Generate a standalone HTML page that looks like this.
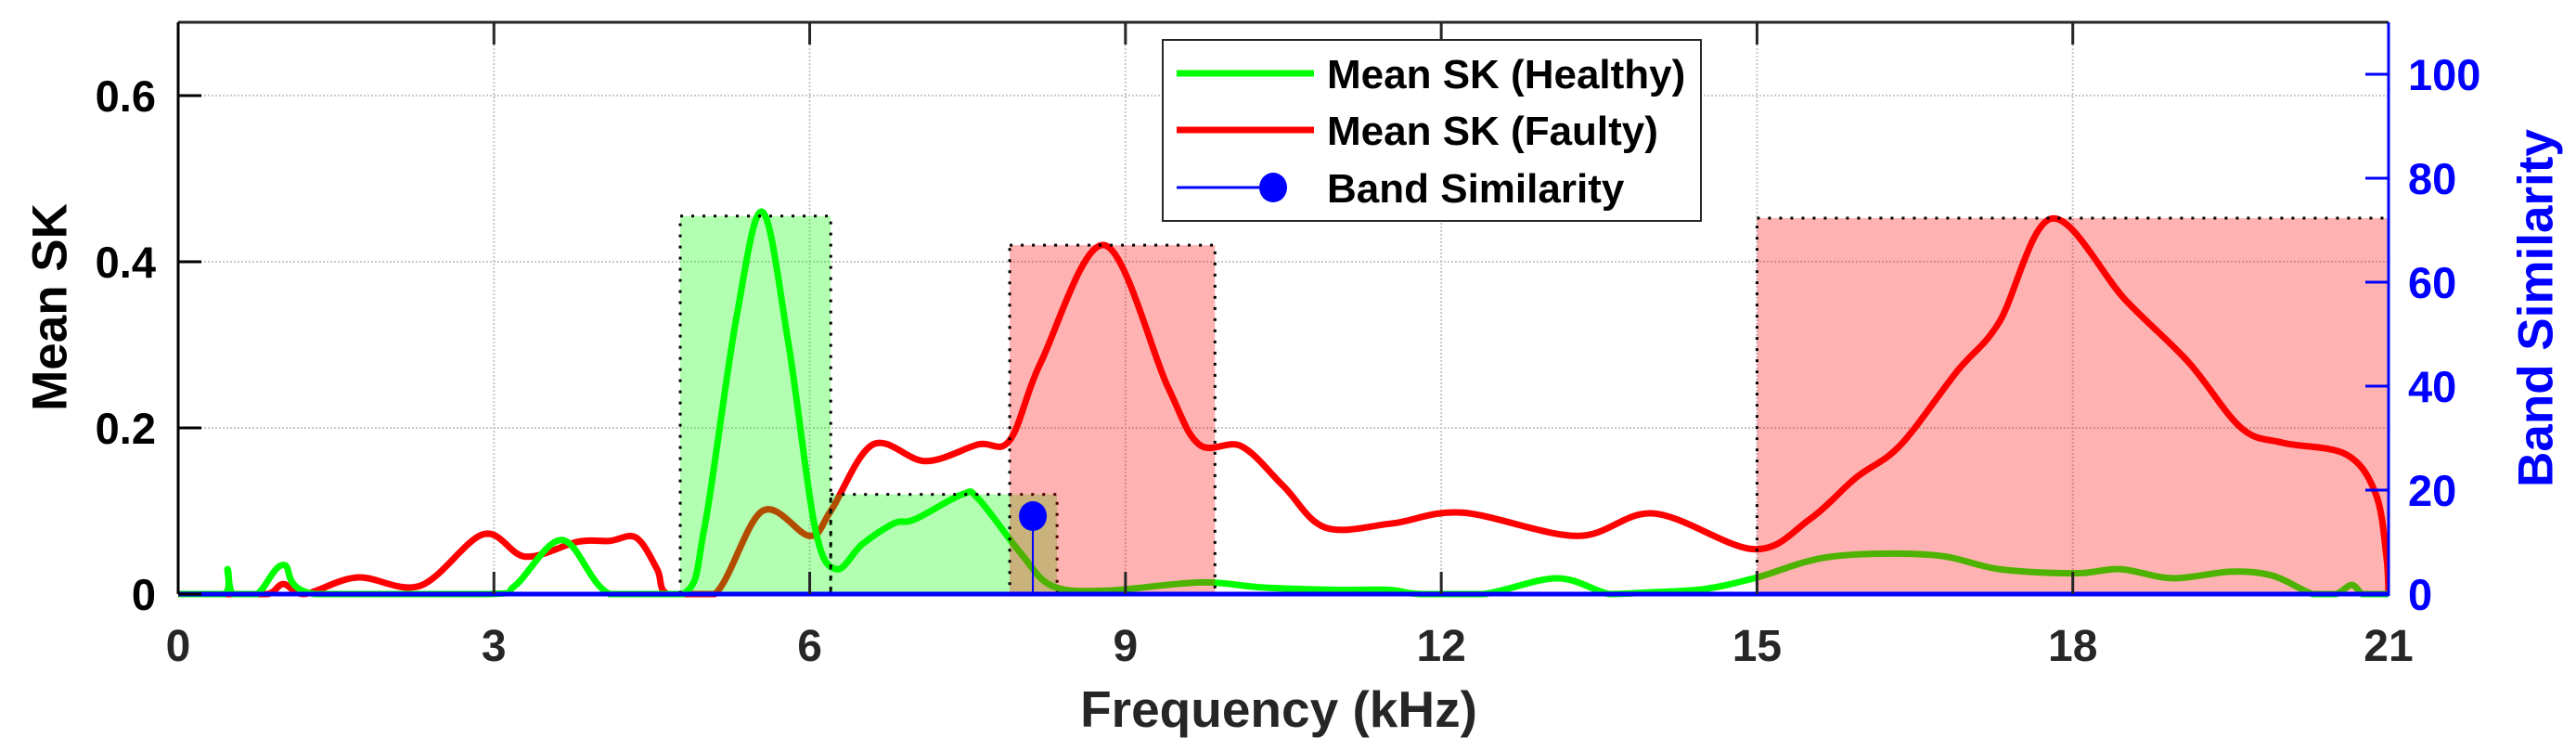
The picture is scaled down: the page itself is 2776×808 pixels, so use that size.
<!DOCTYPE html>
<html><head><meta charset="utf-8"><style>
html,body{margin:0;padding:0;background:#fff;}
svg{display:block;font-family:"Liberation Sans",Arial,sans-serif;font-weight:bold;}
</style></head><body>
<svg id="chart" width="2776" height="808" viewBox="0 0 2776 808" xmlns="http://www.w3.org/2000/svg">
<defs><clipPath id="plotClip"><rect x="192" y="24" width="2382" height="620"/></clipPath></defs>
<rect x="0" y="0" width="2776" height="808" fill="#fff"/>
<g id="grid"></g>
<g id="lines" clip-path="url(#plotClip)"></g>
<g id="bands"></g>
<g id="stems"></g>
<g id="axes"></g>
<text x="54" y="331" transform="rotate(-90 54 331)" text-anchor="middle" dominant-baseline="central" font-size="53" fill="#000">Mean SK</text>
<text x="2733" y="332" transform="rotate(-90 2733 332)" text-anchor="middle" dominant-baseline="central" font-size="53" fill="#0000ff">Band Similarity</text>
<text x="1378" y="783" text-anchor="middle" font-size="55" fill="#262626">Frequency (kHz)</text>
<g>
<rect x="1253" y="43" width="580" height="195" fill="#fff" stroke="#262626" stroke-width="2"/>
<line x1="1268" y1="79" x2="1416" y2="79" stroke="#00ff00" stroke-width="7"/>
<text x="1430" y="95" font-size="44" fill="#000">Mean SK (Healthy)</text>
<line x1="1268" y1="140" x2="1416" y2="140" stroke="#ff0000" stroke-width="7"/>
<text x="1430" y="156" font-size="44" fill="#000">Mean SK (Faulty)</text>
<line x1="1268" y1="202" x2="1372" y2="202" stroke="#0000ff" stroke-width="3"/>
<ellipse cx="1372" cy="202" rx="15" ry="16" fill="#0000ff"/>
<text x="1430" y="218" font-size="44" fill="#000">Band Similarity</text>
</g>
</svg>
<script>
const xTicks=[0,3,6,9,12,15,18,21];
const yTicks=[0,0.2,0.4,0.6];
const yTickLabels=["0","0.2","0.4","0.6"];
const rTicks=[0,20,40,60,80,100];
const healthyF=[0,0.44,0.47,0.52,0.75,1.0,1.3,2.95,3.2,3.65,4.1,4.8,5.0,5.3,5.55,5.8,6.05,6.25,6.5,6.8,7.0,7.45,7.6,8.0,8.3,8.8,9.7,10.3,11.0,11.5,11.8,12.4,13.1,13.6,13.97,14.5,15.0,15.7,16.67,17.3,18.03,18.45,18.95,19.5,19.9,20.28,20.5,20.65,20.75,20.85,21];
const healthyV=[0,0,0.03,0,0,0.035,0,0,0.01,0.065,0,0,0.08,0.33,0.46,0.3,0.08,0.03,0.06,0.085,0.09,0.12,0.115,0.05,0.01,0.004,0.014,0.008,0.005,0.005,0,0,0.019,0,0.002,0.006,0.02,0.045,0.047,0.03,0.025,0.03,0.019,0.027,0.022,0,0,0.011,0,0,0];
const faultyF=[0,0.5,0.85,1.0,1.2,1.7,2.3,2.9,3.3,3.8,4.1,4.35,4.55,4.65,5.1,5.55,6.0,6.2,6.6,7.1,7.6,7.9,8.2,8.8,9.4,9.7,10.1,10.5,10.9,11.53,12.2,13.29,14.02,14.97,15.5,15.94,16.36,16.9,17.3,17.8,18.5,19.1,19.6,20.0,20.6,20.88,20.98,21];
const faultyV=[0,0,0,0.012,0,0.02,0.01,0.072,0.045,0.063,0.064,0.068,0.03,0,0,0.1,0.07,0.1,0.18,0.16,0.18,0.185,0.28,0.42,0.25,0.18,0.178,0.13,0.08,0.085,0.098,0.07,0.097,0.054,0.09,0.14,0.179,0.268,0.327,0.452,0.354,0.279,0.2,0.182,0.168,0.12,0.045,0];
const bandStart=[4.77,6.2,7.9,15.0];
const bandEnd=[6.2,8.35,9.85,21.0];
const bandTop=[0.455,0.12,0.42,0.4525];
const bandClass=["healthy","healthy","faulty","faulty"];
const simF=[8.12];
const simV=[15];

(function(){
const X0=192,X1=2574,Y0=640,Ytop=24;
const xs=f=>X0+f*(X1-X0)/21;
const yL=v=>Y0-v*895;
const yR=s=>Y0-s*5.6;
const NS='http://www.w3.org/2000/svg';
function mk(tag,attrs,parent){const e=document.createElementNS(NS,tag);for(const k in attrs)e.setAttribute(k,attrs[k]);parent.appendChild(e);return e;}
const grid=document.getElementById('grid'),axes=document.getElementById('axes'),lines=document.getElementById('lines'),bands=document.getElementById('bands'),stems=document.getElementById('stems');

xTicks.forEach(t=>{
  if(t>0&&t<21){const g=mk('line',{x1:xs(t),x2:xs(t),y1:Ytop,y2:Y0,stroke:'#c8c8c8','stroke-width':2,'stroke-dasharray':'2 2'},grid);
  
  }
  const tk=mk('line',{x1:xs(t),x2:xs(t),y1:Y0,y2:Y0-24,stroke:'#262626','stroke-width':3},axes);
  
  
  const tk2=mk('line',{x1:xs(t),x2:xs(t),y1:Ytop,y2:Ytop+24,stroke:'#262626','stroke-width':3},axes);
  
  
  const lb=mk('text',{x:xs(t),y:712,'text-anchor':'middle','font-size':48,fill:'#262626'},axes);
  lb.textContent=String(t);
  
  
});
yTicks.forEach((t,i)=>{
  if(t>0){const g=mk('line',{x1:X0,x2:X1,y1:yL(t),y2:yL(t),stroke:'#c8c8c8','stroke-width':2,'stroke-dasharray':'2 2'},grid);
  
  }
  const tk=mk('line',{x1:X0,x2:X0+25,y1:yL(t),y2:yL(t),stroke:'#000','stroke-width':3},axes);
  
  
  const lb=mk('text',{x:168,y:yL(t)+17,'text-anchor':'end','font-size':47,fill:'#000'},axes);
  lb.textContent=yTickLabels[i];
  
  
});
rTicks.forEach(t=>{
  const tk=mk('line',{x1:X1-25,x2:X1,y1:yR(t),y2:yR(t),stroke:'#0000ff','stroke-width':3},axes);
  
  
  const lb=mk('text',{x:2595,y:yR(t)+17,'font-size':47,fill:'#0000ff'},axes);
  lb.textContent=String(t);
  
  
});
const topAxis=mk('line',{x1:X0,x2:X1,y1:Ytop,y2:Ytop,stroke:'#262626','stroke-width':3},axes);


const leftAxis=mk('line',{x1:X0,x2:X0,y1:Ytop,y2:Y0,stroke:'#000','stroke-width':3},axes);


const rightAxis=mk('line',{x1:X1,x2:X1,y1:Ytop,y2:Y0+2,stroke:'#0000ff','stroke-width':3},axes);



function smoothPath(F,V){
  const P=F.map((f,i)=>[xs(f),yL(V[i])]);
  let d='M'+P[0][0]+','+P[0][1];
  for(let i=0;i<P.length-1;i++){
    const p0=P[Math.max(0,i-1)],p1=P[i],p2=P[i+1],p3=P[Math.min(P.length-1,i+2)];
    let c1y=p1[1]+(p2[1]-p0[1])/6,c2y=p2[1]-(p3[1]-p1[1])/6;
    c1y=Math.min(c1y,Y0);c2y=Math.min(c2y,Y0);
    d+=' C'+(p1[0]+(p2[0]-p0[0])/6)+','+c1y+' '+(p2[0]-(p3[0]-p1[0])/6)+','+c2y+' '+p2[0]+','+p2[1];
  }
  return d;
}
const pf=mk('path',{d:smoothPath(faultyF,faultyV),fill:'none',stroke:'#ff0000','stroke-width':7,'stroke-linejoin':'round'},lines);


const ph=mk('path',{d:smoothPath(healthyF,healthyV),fill:'none',stroke:'#00ff00','stroke-width':7,'stroke-linejoin':'round'},lines);



bandStart.forEach((s,i)=>{
  const x=xs(s),w=xs(bandEnd[i])-xs(s),y=yL(bandTop[i]);
  const r=mk('rect',{x:x,y:y,width:w,height:Y0-y,fill:bandClass[i]==='healthy'?'rgba(0,255,0,0.3)':'rgba(255,0,0,0.3)',stroke:'#000','stroke-width':3,'stroke-dasharray':'3 9'},bands);
  
  
});

const baseLine=mk('line',{x1:X0,x2:X1,y1:Y0,y2:Y0,stroke:'#0000ff','stroke-width':5},stems);


simF.forEach((f,i)=>{
  const st=mk('line',{x1:xs(f),x2:xs(f),y1:Y0,y2:yR(simV[i]),stroke:'#0000ff','stroke-width':2},stems);
  
  
  const m=mk('ellipse',{cx:xs(f),cy:yR(simV[i]),rx:15,ry:16,fill:'#0000ff'},stems);
  
  
});
})();
</script>
</body></html>
